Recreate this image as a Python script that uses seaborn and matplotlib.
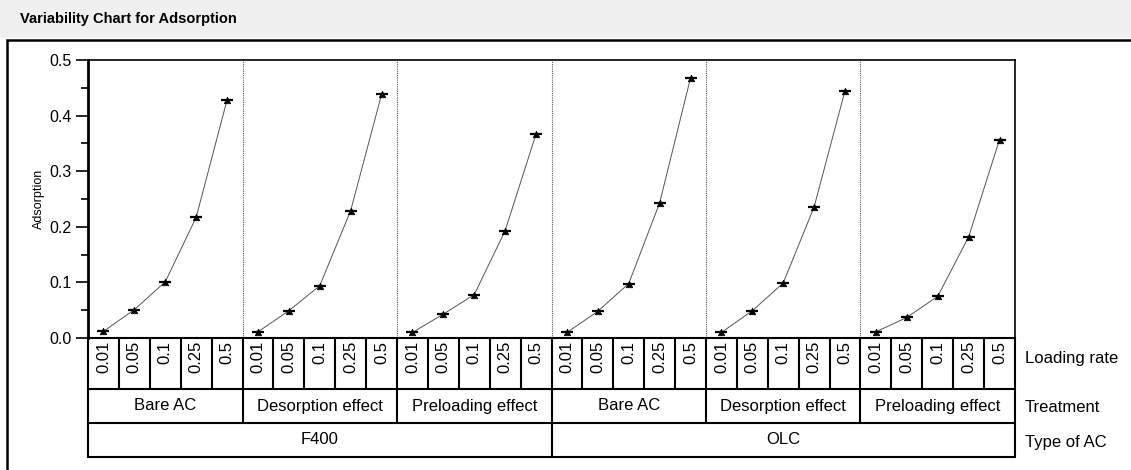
import pandas as pd
import seaborn as sns
import matplotlib.pyplot as plt
from matplotlib.patches import Rectangle
from matplotlib.ticker import MultipleLocator

# Data
loading = ['0.01', '0.05', '0.1', '0.25', '0.5']
treatments = ['Bare AC', 'Desorption effect', 'Preloading effect']
types = ['F400', 'OLC']

f400_bare = [0.012, 0.051, 0.101, 0.217, 0.428]
f400_desorp = [0.011, 0.049, 0.094, 0.229, 0.438]
f400_preload = [0.010, 0.043, 0.078, 0.193, 0.367]
olc_bare = [0.010, 0.048, 0.098, 0.243, 0.468]
olc_desorp = [0.010, 0.049, 0.099, 0.236, 0.445]
olc_preload = [0.011, 0.037, 0.075, 0.182, 0.357]

series = {('F400', 'Bare AC'): f400_bare,
          ('F400', 'Desorption effect'): f400_desorp,
          ('F400', 'Preloading effect'): f400_preload,
          ('OLC', 'Bare AC'): olc_bare,
          ('OLC', 'Desorption effect'): olc_desorp,
          ('OLC', 'Preloading effect'): olc_preload}

rows = []
pos = 0
for t in types:
    for tr in treatments:
        for lr, v in zip(loading, series[(t, tr)]):
            rows.append({'type': t, 'treatment': tr, 'loading': lr,
                         'adsorption': v, 'pos': pos + 0.5, 'group': t + tr})
            pos += 1
df = pd.DataFrame(rows)
n = len(df)
per_treat = len(loading)
per_type = len(loading) * len(treatments)

sns.set_style('white')
plt.rcParams['font.family'] = ['Liberation Sans', 'DejaVu Sans']
plt.rcParams['text.color'] = 'black'
plt.rcParams['axes.labelcolor'] = 'black'
plt.rcParams['ytick.color'] = 'black'

W, H = 1131, 470
fig = plt.figure(figsize=(W / 100, H / 100), dpi=100)

# title bar and outer frame
fig.patches.append(Rectangle((0, 1 - 38 / H), 1, 38 / H, transform=fig.transFigure,
                             facecolor='#f0f0f0', edgecolor='none', zorder=0))
fig.text(20 / W, 1 - 19 / H, 'Variability Chart for Adsorption', fontsize=10.5,
         fontweight='bold', va='center', ha='left')
fig.patches.append(Rectangle((7 / W, -0.05), 1.1, 1 - 40 / H + 0.05, transform=fig.transFigure,
                             facecolor='none', edgecolor='black', lw=1.8, zorder=0))

ax = fig.add_axes([88 / W, (H - 338) / H, 927 / W, 278 / H])
axt = fig.add_axes([88 / W, (H - 457) / H, 927 / W, 119 / H])
ax.set_facecolor('none')
axt.set_facecolor('none')

# lines + markers
sns.lineplot(data=df, x='pos', y='adsorption', units='group', estimator=None,
             color='#555555', lw=0.7, ax=ax, legend=False)
sns.scatterplot(data=df, x='pos', y='adsorption', marker='^', s=22, color='black',
                edgecolor='black', linewidth=0.5, ax=ax, legend=False, zorder=3)
sns.scatterplot(data=df, x='pos', y='adsorption', marker='_', s=70, color='black',
                linewidth=1.6, ax=ax, legend=False, zorder=3)

for k in range(per_treat, n, per_treat):
    ax.axvline(k, color='#555555', lw=0.8, ls=(0, (1, 1)), zorder=1)

ax.set_xlim(0, n)
ax.set_ylim(0, 0.5)
ax.set_xticks([])
ax.set_xlabel('')
ax.set_ylabel('Adsorption', fontsize=9, labelpad=3)
ax.yaxis.set_major_locator(MultipleLocator(0.1))
ax.yaxis.set_minor_locator(MultipleLocator(0.05))
ax.set_yticks([0, 0.1, 0.2, 0.3, 0.4, 0.5])
ax.set_yticklabels(['0.0', '0.1', '0.2', '0.3', '0.4', '0.5'], fontsize=11.5)
ax.tick_params(axis='y', which='major', length=9, width=1.2, direction='out', left=True, pad=3)
ax.tick_params(axis='y', which='minor', length=5, width=1.2, direction='out', left=True)
for side in ['top', 'right', 'bottom']:
    ax.spines[side].set_linewidth(1.2)
    ax.spines[side].set_color('black')
ax.spines['left'].set_linewidth(2)
ax.spines['left'].set_color('black')

# table of factor levels under the plot
r1, r2, r3 = 51, 34, 34
axt.set_xlim(0, n)
axt.set_ylim(r1 + r2 + r3, 0)
axt.axis('off')
lw = 1.5
for y in [0, r1, r1 + r2, r1 + r2 + r3]:
    axt.plot([0, n], [y, y], color='black', lw=lw, clip_on=False)
for k in range(n + 1):
    axt.plot([k, k], [0, r1], color='black', lw=lw, clip_on=False)
for k in range(0, n + 1, per_treat):
    axt.plot([k, k], [r1, r1 + r2], color='black', lw=lw, clip_on=False)
for k in range(0, n + 1, per_type):
    axt.plot([k, k], [r1 + r2, r1 + r2 + r3], color='black', lw=lw, clip_on=False)

fs = 12
for _, r in df.iterrows():
    axt.text(r['pos'], 3, r['loading'], rotation=90, ha='center', va='top', fontsize=fs)
for i, (t, tr) in enumerate(series.keys()):
    axt.text(i * per_treat + per_treat / 2, r1 + r2 / 2, tr, ha='center', va='center', fontsize=fs)
for i, t in enumerate(types):
    axt.text(i * per_type + per_type / 2, r1 + r2 + r3 / 2, t, ha='center', va='center', fontsize=fs)

lab_x = 1 + 10 / 927
axt.text(lab_x, 20, 'Loading rate', transform=axt.get_yaxis_transform(), ha='left', va='center', fontsize=fs)
axt.text(lab_x, r1 + r2 / 2 + 1, 'Treatment', transform=axt.get_yaxis_transform(), ha='left', va='center', fontsize=fs)
axt.text(lab_x, r1 + r2 + r3 / 2 + 2, 'Type of AC', transform=axt.get_yaxis_transform(), ha='left', va='center', fontsize=fs)

fig.savefig('out.png', dpi=100)
